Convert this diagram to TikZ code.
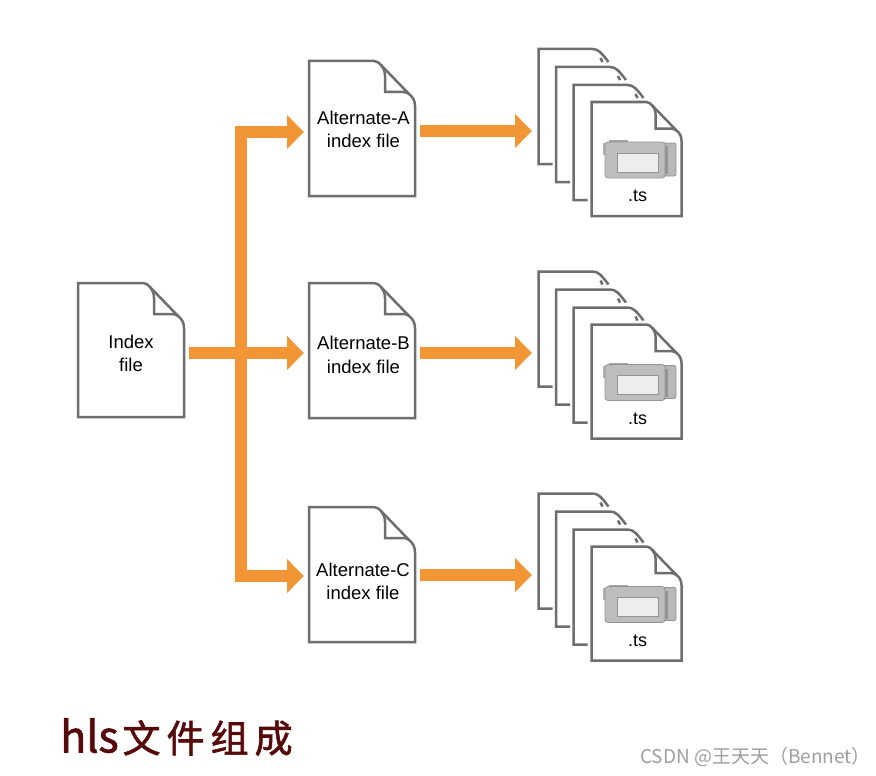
\documentclass[tikz,border=0pt]{standalone}
\usepackage{fontspec}
\setmainfont{Liberation Sans}
\newfontfamily\cjkfont{Noto Sans CJK SC}
\newfontfamily\titlefont[FakeBold=1.6]{Noto Sans CJK SC}
\usetikzlibrary{arrows.meta,calc}
\definecolor{docgray}{HTML}{6E6E6E}
\definecolor{floworange}{HTML}{F29535}
\definecolor{titlered}{HTML}{560A0A}
\tikzset{
  docbox/.style={inner sep=0pt,outer sep=0pt,draw=none},
  docline/.style={draw=docgray,line width=2.5pt,line join=miter},
  flow/.style={draw=floworange,line width=11.5pt,line join=miter,-{Triangle[length=17pt,width=33pt]}},
  doclabel/.style={inner sep=0pt,align=center,font=\fontsize{18.5pt}{23.5pt}\selectfont,text=black},
  tslabel/.style={inner sep=0pt,font=\fontsize{18pt}{22pt}\selectfont,text=black},
}
% name, x, y, w, h, fold scale
\newcommand{\fulldoc}[6]{%
  \node[docbox,minimum width=#4pt,minimum height=#5pt] (#1) at ({#2+#4/2},{#3+#5/2}) {};
  \begin{scope}[shift={(#2,#3)}]
    \draw[docline,fill=white] (0,0) -- ({#4-41*#6},0)
      .. controls ({#4-38*#6},0) and ({#4-36*#6},{2*#6}) .. ({#4-34*#6},{4*#6})
      -- ({#4-6*#6},{33*#6})
      .. controls ({#4-2*#6},{36*#6}) and (#4,{40*#6}) .. (#4,{45*#6})
      -- (#4,#5) -- (0,#5) -- cycle;
    \draw[docline] ({#4-34*#6},{4*#6})
      .. controls ({#4-31*#6},{8*#6}) and ({#4-30*#6},{11*#6}) .. ({#4-30*#6},{15*#6})
      -- ({#4-30*#6},{31*#6}) -- ({#4-12*#6},{31*#6})
      .. controls ({#4-9*#6},{31*#6}) and ({#4-7*#6},{32*#6}) .. ({#4-6*#6},{33*#6});
  \end{scope}}
\newcommand{\backdoc}[2]{%
  \begin{scope}[shift={(#1,#2)}]
    \draw[docline] (14,115) -- (0,115) -- (0,0) -- (54,0)
      .. controls (60,0) and (63,4) .. (70,13);
    \draw[docline] (62,9) -- (64,13);
  \end{scope}}
\newcommand{\camera}[2]{%
  \begin{scope}[shift={(#1,#2)}]
    \fill[black!35] (5,0) rectangle (24,4);
    \fill[black!30] (-1,3) rectangle (4,15);
    \draw[black!42,fill=black!28,line width=.8pt,rounded corners=2pt] (58,3) -- (72,3) -- (72,36) -- (58,36) -- cycle;
    \draw[black!42,fill=black!26,line width=.8pt,rounded corners=3pt] (1,2) rectangle (61,38);
    \draw[black!42,fill=black!7,line width=.8pt] (13,13) rectangle (54,32);
    \fill[black!42] (61,6) rectangle (63.5,34);
  \end{scope}}
% name, y of the back sheet
\newcommand{\tsstack}[2]{%
  \backdoc{538.5}{#2}
  \backdoc{556}{#2+18}
  \backdoc{573.5}{#2+36}
  \fulldoc{#1}{591.5}{#2+53}{90}{114}{.86}
  \camera{604}{#2+91}
  \node[tslabel] (#1t) at (637.5,#2+147) {.ts};}
\begin{document}
\begin{tikzpicture}[x=1pt,y=-1pt]
  \useasboundingbox (0,0) rectangle (876,776);
  \fill[white] (0,0) rectangle (876,776);

  \fulldoc{idx}{78}{283}{106}{134}{1}
  \fulldoc{altA}{309}{61}{106}{135}{1}
  \fulldoc{altB}{309}{283}{106}{135}{1}
  \fulldoc{altC}{309}{507}{106}{135}{1}

  \node[doclabel] (idxt) at (131,353.5) {Index\\file};
  \node[doclabel] (altAt) at (363.5,129.5) {Alternate-A\\index file};
  \node[doclabel] (altBt) at (363.5,355) {Alternate-B\\index file};
  \node[doclabel] (altCt) at (363,581.5) {Alternate-C\\index file};

  \tsstack{tsA}{49}
  \tsstack{tsB}{271.5}
  \tsstack{tsC}{493.5}

  \coordinate (jn) at (241,353);
  \coordinate (inA) at (304,132);
  \coordinate (inB) at (304,353);
  \coordinate (inC) at (304,576);
  \coordinate (outA) at (532,131);
  \coordinate (outB) at (532,353);
  \coordinate (outC) at (532,575);

  \draw[flow] (jn) |- (inA);
  \draw[flow] (jn) |- (inC);
  \draw[flow] ([xshift=4.5pt]idx.east |- jn) -- (inB);
  \draw[flow] ([xshift=5pt]altA.east |- outA) -- (outA);
  \draw[flow] ([xshift=5pt]altB.east |- outB) -- (outB);
  \draw[flow] ([xshift=5pt]altC.east |- outC) -- (outC);

  \node[inner sep=0pt,anchor=west,text=titlered,font=\titlefont\fontsize{38pt}{38pt}\selectfont] (title) at (60,737)
    {{\fontsize{43pt}{43pt}\selectfont hls}\hspace{4pt}文\hspace{6pt}件\hspace{6pt}组\hspace{6pt}成};
  \node[inner sep=0pt,anchor=east,text=black!38,font=\cjkfont\fontsize{19pt}{20pt}\selectfont] (mark) at (871,757) {CSDN @王天天（Bennet）};
\end{tikzpicture}
\end{document}
